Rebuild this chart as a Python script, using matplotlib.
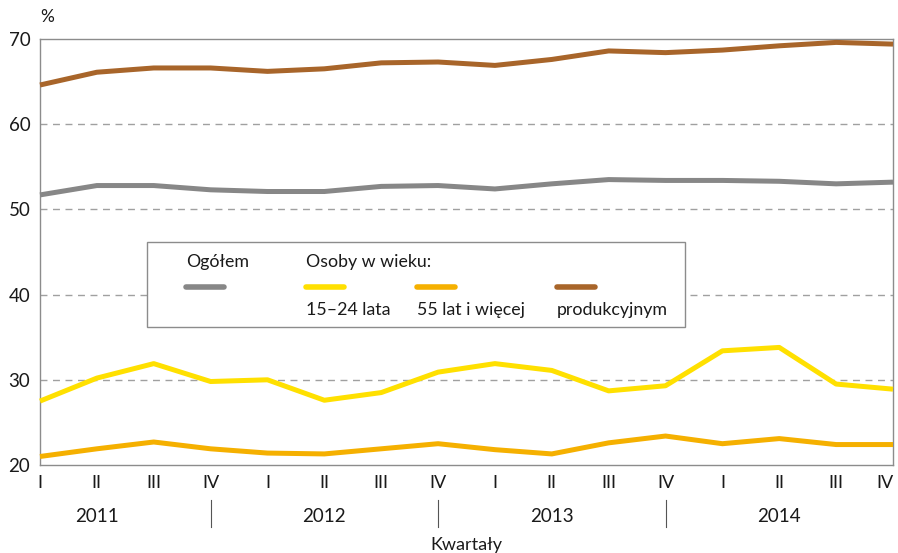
import matplotlib.pyplot as plt
from matplotlib.lines import Line2D
from matplotlib.patches import Rectangle

plt.rcParams['font.family'] = ['Lato', 'DejaVu Sans']

quarters = ['I', 'II', 'III', 'IV'] * 4
years = ['2011', '2012', '2013', '2014']

ogolem = [51.7, 52.8, 52.8, 52.3, 52.1, 52.1, 52.7, 52.8,
          52.4, 53.0, 53.5, 53.4, 53.4, 53.3, 53.0, 53.2]
lata_15_24 = [27.5, 30.2, 31.9, 29.8, 30.0, 27.6, 28.5, 30.9,
              31.9, 31.1, 28.7, 29.3, 33.4, 33.8, 29.5, 28.9]
lata_55 = [21.0, 21.9, 22.7, 21.9, 21.4, 21.3, 21.9, 22.5,
           21.8, 21.3, 22.6, 23.4, 22.5, 23.1, 22.4, 22.4]
produkcyjny = [64.6, 66.1, 66.6, 66.6, 66.2, 66.5, 67.2, 67.3,
               66.9, 67.6, 68.6, 68.4, 68.7, 69.2, 69.6, 69.4]

c_gray = '#878787'
c_yellow = '#FFE000'
c_orange = '#F5B000'
c_brown = '#A8652A'
c_text = '#1a1a1a'

W, H = 898, 553
fig = plt.figure(figsize=(W / 100, H / 100), dpi=100)
ax = fig.add_axes([40 / W, (H - 465) / H, 853 / W, 426 / H])

x = list(range(len(quarters)))
for vals, col in [(ogolem, c_gray), (lata_15_24, c_yellow),
                  (lata_55, c_orange), (produkcyjny, c_brown)]:
    ax.plot(x, vals, color=col, lw=3.6, solid_joinstyle='round',
            solid_capstyle='butt', clip_on=False, zorder=3)

ax.set_xlim(0, 15)
ax.set_ylim(20, 70)
ax.set_yticks([20, 30, 40, 50, 60, 70])
for yv in [30, 40, 50, 60]:
    ax.axhline(yv, color='#a0a0a0', lw=1, ls=(0, (5, 4)), zorder=1)
for s in ax.spines.values():
    s.set_color('#8c8c8c')
    s.set_linewidth(1)
ax.tick_params(axis='y', length=0, labelsize=13.5, pad=7, colors=c_text)
ax.set_xticks(x)
ax.set_xticklabels(quarters)
ax.tick_params(axis='x', length=0, labelsize=13, pad=7, colors=c_text)
ax.get_xticklabels()[-1].set_horizontalalignment('right')
ax.get_xticklabels()[-1].set_x(15.07)

# year labels and separators (as in the original: under I-II / at IV)
for i, yr in enumerate(years):
    ax.text(i * 4 + 1, -0.12, yr, transform=ax.get_xaxis_transform(),
            ha='center', va='center', fontsize=13.5, color=c_text)
for i in range(1, 4):
    xs = i * 4 - 1
    ax.add_line(Line2D([xs, xs], [-0.083, -0.146], color='#555555', lw=0.8,
                       transform=ax.get_xaxis_transform(), clip_on=False))

fig.text(466 / W, 1 - 545 / H, 'Kwartały', ha='center', va='center',
         fontsize=13, color=c_text)
fig.text(40 / W, 1 - 17 / H, '%', ha='left', va='center', fontsize=12.5,
         color=c_text)

# legend box
fig.patches.append(Rectangle((147 / W, 1 - 327 / H), 538 / W, 85 / H,
                             transform=fig.transFigure, facecolor='white',
                             edgecolor='#8c8c8c', lw=1, zorder=5))
leg_fs = 12.8
fig.text(186 / W, 1 - 262 / H, 'Ogółem', fontsize=leg_fs, va='center',
         color=c_text, zorder=6)
fig.text(306 / W, 1 - 262 / H, 'Osoby w wieku:', fontsize=leg_fs,
         va='center', color=c_text, zorder=6)
leg_items = [(186, c_gray, None), (306, c_yellow, '15–24 lata'),
             (417, c_orange, '55 lat i więcej'), (557, c_brown, 'produkcyjnym')]
for px, col, lab in leg_items:
    fig.add_artist(Line2D([px / W, (px + 38) / W], [1 - 287 / H, 1 - 287 / H],
                          color=col, lw=4, solid_capstyle='round',
                          transform=fig.transFigure, zorder=6))
    if lab:
        fig.text(px / W, 1 - 310 / H, lab, fontsize=leg_fs, va='center',
                 color=c_text, zorder=6)

fig.savefig('out.png', dpi=100)
